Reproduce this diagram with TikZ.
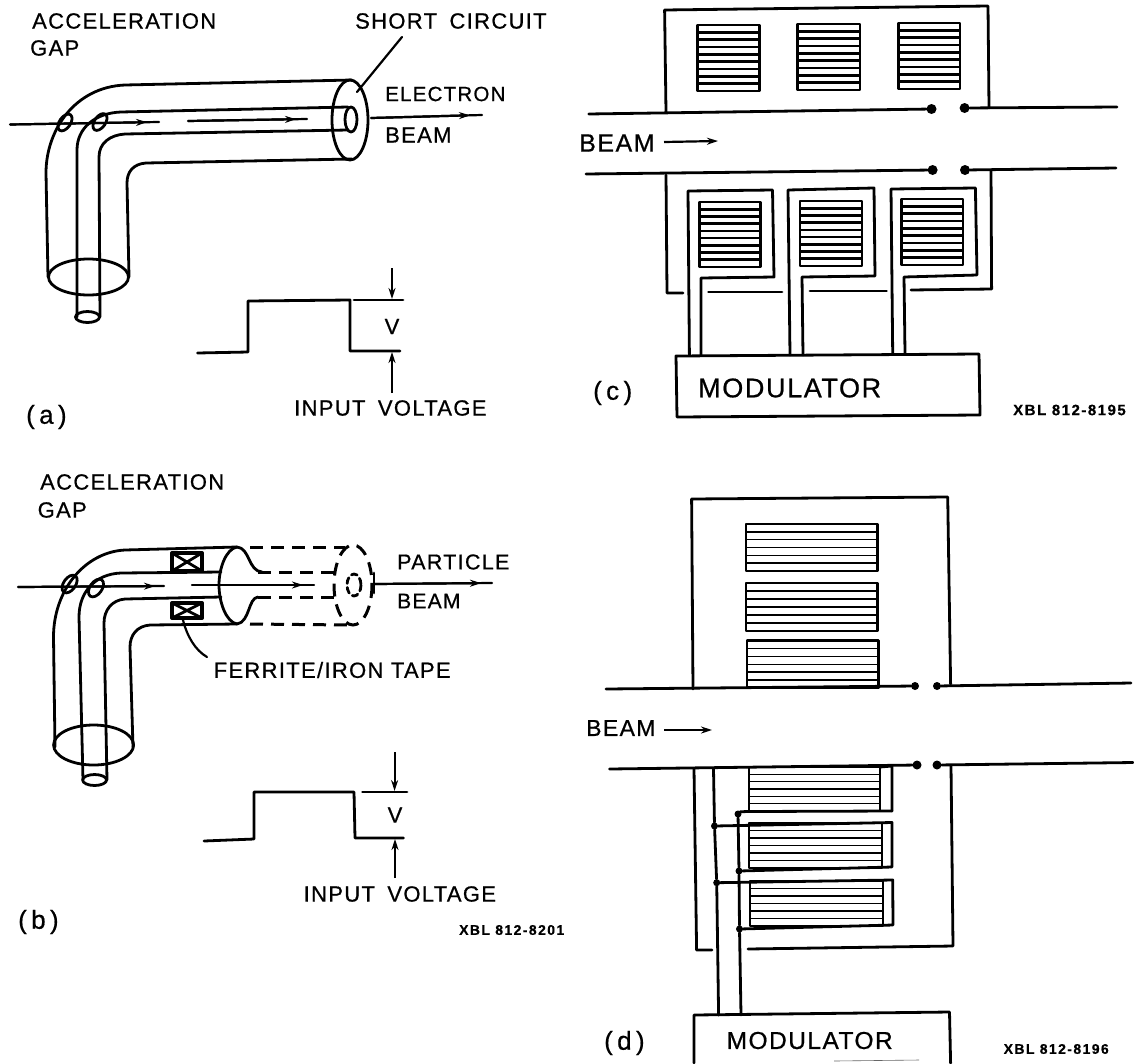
\documentclass[tikz,border=0pt]{standalone}
\usepackage{fontspec}
\usetikzlibrary{arrows.meta}
\newfontfamily\labfont[LetterSpace=6,FakeBold=0.7]{Liberation Sans}
\newfontfamily\xblfont[LetterSpace=10,FakeBold=0.4]{Liberation Sans Bold}
\tikzset{
  ln/.style={line width=2.8pt,black,line join=round,line cap=round},
  tn/.style={line width=2.2pt,black,line join=round,line cap=round},
  dsh/.style={line width=3pt,black,dash pattern=on 13pt off 8pt},
  tiparrow/.style={-{Stealth[length=11pt,width=7pt]},line width=2.2pt},
  lab/.style={inner sep=0pt,anchor=west,font=\labfont\fontsize{#1}{#1}\selectfont},
  lab/.default=22,
  xbl/.style={inner sep=0pt,anchor=west,font=\xblfont\fontsize{#1}{#1}\selectfont},
  xbl/.default=14,
  blob/.style={circle,fill=black,inner sep=0pt,minimum size=#1},
}
\newcommand{\hcore}[6]{%
  \draw[ln] (#1,#2) rectangle (#3,#4);
  \foreach \i in {1,...,#5}{
    \pgfmathsetmacro\yy{#2+(#4-#2)*\i/(#5+1)}
    \draw[line width=#6] (#1,\yy) -- (#3,\yy);
  }}
\newcommand{\beamseg}[4]{% start, end, tip x, tip y
  \draw[tn] (#1) -- (#2);
  \draw[tiparrow] (#1) -- (#3,#4);}
\begin{document}
\begin{tikzpicture}[x=1pt,y=-1pt]
\useasboundingbox (0,0) rectangle (1134,1063);
\fill[white] (0,0) rectangle (1134,1063);

%% ---------- panel a
\node[lab] (a1) at (32,21) {ACCELERATION};
\node[lab] (a2) at (30,48) {GAP};
\node[lab] (a3) at (355,21) {SHORT\hspace{5pt} CIRCUIT};
\node[lab=20.5] (a4) at (385,94) {ELECTRON};
\node[lab] (a5) at (385,135) {BEAM};
\draw[ln] (352,80) -- (125,85) .. controls (75,87) and (46,130) .. (46,173) -- (48,277);
\draw[ln] (352,159) -- (146,163) .. controls (133,164) and (127,172) .. (127,183) -- (129,277);
\draw[ln] (348,107) -- (121,112) .. controls (95,113) and (77,128) .. (77,150) -- (77,317);
\draw[ln] (348,130) -- (125,134) .. controls (110,135) and (99,143) .. (99,157) -- (100,317);
\draw[ln] (350,120) ellipse [x radius=18,y radius=40];
\draw[ln] (351,119.5) ellipse [x radius=6,y radius=12.5];
\draw[ln] (88.5,277) ellipse [x radius=40,y radius=18];
\draw[ln] (87.5,317) ellipse [x radius=12,y radius=5.5];
\draw[ln] (65,122.5) ellipse [x radius=5.5,y radius=9.5,rotate=-35];
\draw[ln] (100,122) ellipse [x radius=5.5,y radius=9.5,rotate=-35];
\coordinate (ab1) at (10,124.5); \coordinate (ab2) at (159,122);
\coordinate (ab3) at (188,121); \coordinate (ab4) at (307,119);
\coordinate (ab5) at (371,118); \coordinate (ab6) at (482,115);
\beamseg{ab1}{ab2}{147}{122.2}
\beamseg{ab3}{ab4}{296}{119.2}
\beamseg{ab5}{ab6}{470}{115.3}
\coordinate (al) at (357,92);
\draw[tn] (402,37) -- (al);
\draw[ln] (197.5,353) -- (248,352) -- (248,301) -- (350,300) -- (350,351) -- (400,351);
\draw[ln] (354,300) -- (403,300);
\node[lab,anchor=center] (aV) at (392,326.5) {V};
\coordinate (aa1) at (392,268); \coordinate (aa2) at (392,299);
\coordinate (aa3) at (392,393); \coordinate (aa4) at (392,352);
\draw[tiparrow] (aa1) -- (aa2);
\draw[tiparrow] (aa3) -- (aa4);
\node[lab] (a6) at (294,408) {INPUT\hspace{5pt} VOLTAGE};
\node[lab=26] (a7) at (26,417) {(\,a\,)};

%% ---------- panel b
\node[lab] (b1) at (40,482) {ACCELERATION};
\node[lab] (b2) at (37.5,510) {GAP};
\node[lab=21.5] (b3) at (397,562) {PARTICLE};
\node[lab=21] (b4) at (397,601) {BEAM};
\node[lab] (b5) at (213.5,670) {FERRITE/IRON TAPE};
\draw[ln] (237,547) -- (125,550) .. controls (85,552) and (53.5,590) .. (53.5,637) -- (55,747);
\draw[ln] (237,624) -- (150,625) .. controls (137,626) and (130,635) .. (130,647) -- (133,747);
\draw[ln] (221,572) -- (121,573) .. controls (95,574) and (79,592) .. (79,617) -- (83,780);
\draw[ln] (221,597) -- (125,599) .. controls (112,600) and (104,610) .. (104,623) -- (107,780);
\draw[ln] (237,547) .. controls (226,549) and (219,568) .. (219,585) .. controls (219,602) and (226,622) .. (237,624);
\draw[ln] (237,547) .. controls (250,548) and (248,571) .. (262,572);
\draw[ln] (237,624) .. controls (250,622) and (248,598) .. (258,597);
\draw[dsh] (250,547) -- (345,547);
\draw[dsh] (250,624) -- (350,625);
\draw[dsh] (258,572) -- (334,572);
\draw[dsh] (258,597) -- (334,597);
\draw[dsh] (353,585) ellipse [x radius=19,y radius=40];
\draw[ln,dash pattern=on 6pt off 4pt] (354,585) ellipse [x radius=7,y radius=11];
\draw[ln] (93.6,745) ellipse [x radius=40,y radius=20];
\draw[ln] (94.6,780) ellipse [x radius=12,y radius=5.5];
\draw[ln] (69.6,584) ellipse [x radius=6,y radius=10,rotate=-35];
\draw[ln] (96,588) ellipse [x radius=6,y radius=10,rotate=-35];
\coordinate (bb1) at (18,587); \coordinate (bb2) at (164,586);
\coordinate (bb3) at (192,585); \coordinate (bb4) at (314,585);
\coordinate (bb5) at (374,584); \coordinate (bb6) at (492,583);
\beamseg{bb1}{bb2}{155}{586.1}
\beamseg{bb3}{bb4}{303}{585}
\beamseg{bb5}{bb6}{481}{583.1}
\draw[ln] (374,573) -- (374,593);
\foreach \p/\q/\r/\s in {172/553/202/571,172/603/202/618}{
  \draw[ln,line width=4pt] (\p,\q) rectangle (\r,\s);
  \draw[ln] (\p,\q) -- (\r,\s) (\p,\s) -- (\r,\q);
}
\coordinate (bl1) at (183,620); \coordinate (bl2) at (207,657);
\draw[tn] (bl1) .. controls (187,636) and (195,650) .. (bl2);
\draw[ln] (204,841) -- (254,839) -- (254,792) -- (354,792) -- (355,838) -- (403.5,838);
\draw[ln] (362.5,792) -- (407,792);
\node[lab,anchor=center] (bV) at (395,815) {V};
\coordinate (ba1) at (394.6,752); \coordinate (ba2) at (394.6,791);
\coordinate (ba3) at (395,878); \coordinate (ba4) at (395,839);
\draw[tiparrow] (ba1) -- (ba2);
\draw[tiparrow] (ba3) -- (ba4);
\node[lab] (b6) at (303.5,894) {INPUT\hspace{5pt} VOLTAGE};
\node[lab=26] (b7) at (18,922) {(\,b\,)};
\node[xbl] (b8) at (459,930) {XBL 812-8201};

%% ---------- panel c
\node[blob=10pt] (cd1) at (931.5,109) {};
\node[blob=10pt] (cd2) at (964.6,108) {};
\node[blob=10pt] (cd3) at (932.6,170) {};
\node[blob=10pt] (cd4) at (965,170) {};
\coordinate (cw1) at (588.7,114); \coordinate (cw2) at (1117,107);
\coordinate (cw3) at (586,174); \coordinate (cw4) at (1116,168);
\draw[ln] (cw1) -- (cd1);
\draw[ln] (cd2) -- (cw2);
\draw[ln] (cw3) -- (cd3);
\draw[ln] (cd4) -- (cw4);
\draw[ln] (666,112) -- (664.6,10) -- (988,6) -- (989,108);
\node[lab=25] (c1) at (579,143) {BEAM};
\coordinate (cb1) at (664,142); \coordinate (cb2) at (718,141);
\draw[tiparrow] (cb1) -- (cb2);
\hcore{697.7}{25}{759.6}{91}{8}{2.6pt}
\hcore{797.7}{24}{860}{90}{8}{2.6pt}
\hcore{898.4}{23}{960}{89}{8}{2.6pt}
\hcore{699.5}{202}{760.6}{267}{8}{2.6pt}
\hcore{800}{201}{862}{266}{8}{2.6pt}
\hcore{901.7}{199}{963}{265}{8}{2.6pt}
\draw[ln] (676,356) -- (979,354) -- (980,415) -- (677,417) -- cycle;
\node[lab=27] (c2) at (698,388) {MODULATOR};
\draw[ln] (689.4,355) -- (688,191) -- (772.5,190) -- (774,277) -- (701,278) -- (701,355);
\draw[ln] (790,355) -- (788,190) -- (874,188) -- (875,276) -- (802,277) -- (803,355);
\draw[ln] (892.7,353) -- (891,189) -- (975.4,188) -- (977,275) -- (904,277) -- (905,353);
\draw[ln] (666,175) -- (667,293) -- (683,293);
\draw[ln] (708.5,292) -- (782,292);
\draw[ln] (810,291) -- (886.5,291);
\draw[ln] (911,290) -- (991.6,289) -- (991,170);
\node[lab=26] (c3) at (593,393) {(\,c\,)};
\node[xbl=15] (c4) at (1013,410) {XBL 812-8195};

%% ---------- panel d
\node[blob=8pt] (dd1) at (915,686) {};
\node[blob=8pt] (dd2) at (937,686) {};
\node[blob=9pt] (dd3) at (917,765) {};
\node[blob=9pt] (dd4) at (937,765) {};
\coordinate (dw1) at (606,689); \coordinate (dw2) at (1131,683);
\coordinate (dw3) at (609.6,769); \coordinate (dw4) at (1133,762.5);
\draw[ln] (dw1) -- (dd1);
\draw[ln] (dd2) -- (dw2);
\draw[ln] (dw3) -- (dd3);
\draw[ln] (dd4) -- (dw4);
\draw[ln] (693,689) -- (691.6,499) -- (947.7,497) -- (950.6,684);
\node[lab=23] (d1) at (586,728) {BEAM};
\coordinate (db1) at (664,730); \coordinate (db2) at (712,730);
\draw[tiparrow] (db1) -- (db2);
\hcore{746}{524}{877.6}{571}{5}{1.5pt}
\hcore{746}{583}{877.6}{631}{5}{1.5pt}
\hcore{747}{640.6}{878.6}{688}{5}{1.5pt}
\hcore{749}{767}{880}{811}{5}{1.5pt}
\hcore{749}{823}{882}{868}{5}{1.5pt}
\hcore{750}{881}{883}{926}{5}{1.5pt}
\draw[ln] (880,767) -- (892,766) -- (892,811);
\draw[ln] (694,769) -- (696.6,950) -- (712,950);
\draw[ln] (748,949) -- (953,946) -- (951,766);
\node[blob=7pt] (dj1) at (714.5,826) {};
\node[blob=7pt] (dj2) at (738,814) {};
\node[blob=7pt] (dj3) at (739,871) {};
\node[blob=7pt] (dj4) at (716.7,882.7) {};
\node[blob=7pt] (dj5) at (739.5,929) {};
\coordinate (dt1) at (713.5,769); \coordinate (dt2) at (718.6,1015); \coordinate (dt3) at (741,1015);
\draw[ln] (dt1) -- (dj1) -- (dj4) -- (dt2);
\draw[ln] (dj2) -- (dj3) -- (dj5) -- (dt3);
\draw[ln] (dj2) .. controls (740,812) and (744,811.5) .. (750,811.5) -- (892,811);
\draw[ln] (dj1) -- (892,822.5) -- (892,867) -- (dj3);
\draw[ln] (dj4) -- (892.7,880) -- (893,925) -- (dj5);
\draw[ln] (694,1063) -- (694,1015) -- (949.5,1012) -- (950.6,1063);
\draw[line width=.6pt,black!60] (834,1061) -- (919,1060);
\node[lab=24.5] (d2) at (726.5,1040.5) {MODULATOR};
\node[lab=26] (d3) at (604,1043) {(\,d\,)};
\node[xbl] (d4) at (1003.5,1049) {XBL 812-8196};
\end{tikzpicture}
\end{document}
